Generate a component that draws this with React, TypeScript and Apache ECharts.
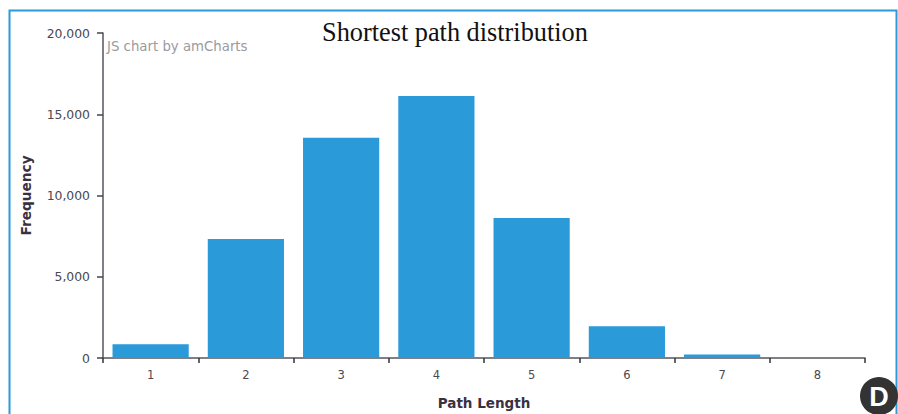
import React, { useEffect, useRef } from "react";
import * as echarts from "echarts";

const categories = ["1", "2", "3", "4", "5", "6", "7", "8"];
const frequency = [850, 7330, 13560, 16130, 8610, 1960, 220, 10];
const yMax = 20000;
const yInterval = 5000;

export default function App() {
  const ref = useRef<HTMLDivElement>(null);
  useEffect(() => {
    document.body.style.margin = "0";
    const chart = echarts.init(ref.current!, undefined, { renderer: "svg" });
    const font = "Verdana, 'DejaVu Sans', sans-serif";
    chart.setOption({
      animation: false,
      backgroundColor: "#ffffff",
      title: {
        text: "Shortest path distribution",
        left: 317,
        top: 14,
        textStyle: { fontFamily: "'Liberation Serif', serif", fontSize: 26.3, fontWeight: "normal", color: "#111111" },
      },
      grid: { left: 103, right: 33, top: 33, bottom: 56, containLabel: false, outerBoundsMode: "none" },
      xAxis: {
        type: "category",
        data: categories,
        name: "Path Length",
        nameLocation: "middle",
        nameGap: 38,
        nameTextStyle: { fontFamily: font, fontSize: 13.5, fontWeight: "bold", color: "#3a3040" },
        axisLine: { show: true, lineStyle: { color: "#55555c", width: 1.5 } },
        axisTick: { show: true, alignWithLabel: false, length: 5, lineStyle: { color: "#333338", width: 1.5 } },
        axisLabel: { fontFamily: font, fontSize: 11.5, color: "#4a4a50", margin: 11 },
      },
      yAxis: {
        type: "value",
        min: 0,
        max: yMax,
        interval: yInterval,
        name: "Frequency",
        nameLocation: "middle",
        nameGap: 70,
        nameRotate: 90,
        nameTextStyle: { fontFamily: font, fontSize: 13.7, fontWeight: "bold", color: "#3a3040" },
        splitLine: { show: false },
        axisLine: { show: true, lineStyle: { color: "#55555c", width: 1.5 } },
        axisTick: { show: true, length: 6, lineStyle: { color: "#444448", width: 1.5 } },
        axisLabel: {
          fontFamily: font,
          fontSize: 12.4,
          color: "#4a4a50",
          margin: 13,
          formatter: (v: number) => v.toLocaleString("en-US"),
        },
      },
      series: [
        {
          type: "bar",
          data: frequency,
          barCategoryGap: "20%",
          itemStyle: { color: "#2a9ad9" },
        },
      ],
      graphic: [
        {
          type: "polyline",
          shape: { points: [[9.5, 414], [9.5, 10.5], [896.5, 10.5], [896.5, 414]] },
          style: { stroke: "#2a9ad9", lineWidth: 2, fill: "none" },
        },
        {
          type: "text",
          x: 107,
          y: 40,
          style: { text: "JS chart by amCharts", fontFamily: font, fontSize: 13.3, fill: "#9a9a9e" },
        },
        { type: "circle", shape: { cx: 879, cy: 396, r: 19 }, style: { fill: "#333333" } },
        {
          type: "text",
          x: 879,
          y: 397,
          style: {
            text: "D",
            fontFamily: "'Liberation Sans', sans-serif",
            fontSize: 27,
            fontWeight: "bold",
            fill: "#ffffff",
            align: "center",
            verticalAlign: "middle",
          },
        },
      ],
    });
    return () => chart.dispose();
  }, []);
  return <div ref={ref} style={{ width: 898, height: 414 }} />;
}
